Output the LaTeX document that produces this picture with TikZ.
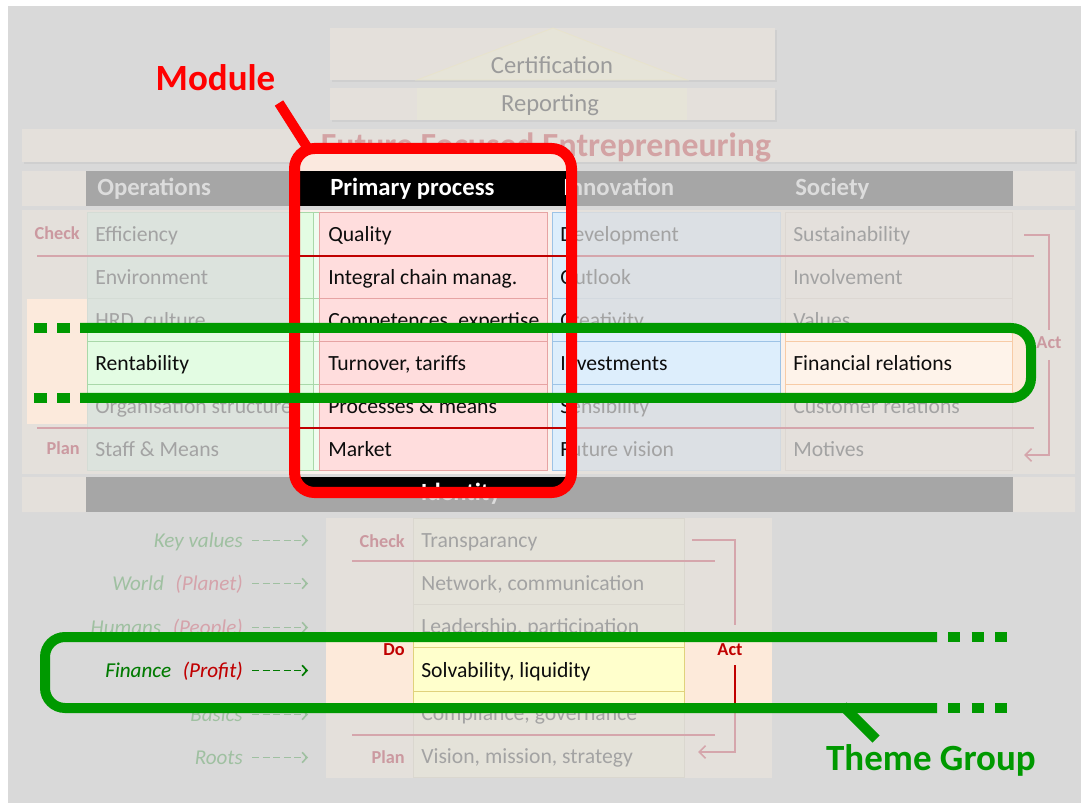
\documentclass[tikz,border=0pt]{standalone}
\usepackage{fontspec}
\setmainfont{Carlito}
\usetikzlibrary{arrows.meta}

% fixed colours
\definecolor{pageGray}{HTML}{D9D9D9}
\definecolor{shadowGray}{HTML}{CFCFCF}
\definecolor{barFill}{HTML}{E4E0DB}
\definecolor{roofFill}{HTML}{E6E4D8}
\definecolor{roofEdge}{HTML}{E8E3CC}
\definecolor{capTxt}{HTML}{9B9B9B}
\definecolor{ffeTxt}{HTML}{D3A3A4}
\definecolor{doPeach}{HTML}{FCEADC}
\definecolor{peachTop}{HTML}{FBE9DF}
\definecolor{hiGreen}{HTML}{009900}
\definecolor{hiRed}{HTML}{FF0000}

% muted palette (f) for the background layer
\definecolor{fTxt}{HTML}{A3A3A3}
\definecolor{fBlock}{HTML}{E4E0DB}
\definecolor{fOps}{HTML}{DCE3DD}
\definecolor{fOpsLine}{HTML}{D4DCD5}
\definecolor{fStrip}{HTML}{DEE6DF}
\definecolor{fPri}{HTML}{E0D6D6}
\definecolor{fPriLine}{HTML}{D5C0C0}
\definecolor{fInn}{HTML}{DCE0E4}
\definecolor{fInnLine}{HTML}{D3D9DF}
\definecolor{fSoc}{HTML}{E4E0DC}
\definecolor{fSocLine}{HTML}{DCD7D2}
\definecolor{fRight}{HTML}{E4E0DB}
\definecolor{fHdr}{HTML}{A6A6A6}
\definecolor{fHdrTxt}{HTML}{DCDCDC}
\definecolor{fPdca}{HTML}{CB99A0}
\definecolor{fPdcaLine}{HTML}{D5A6AC}
\definecolor{fBot}{HTML}{E4E0DB}
\definecolor{fYel}{HTML}{E4E2D9}
\definecolor{fYelLine}{HTML}{DAD7CF}
\definecolor{fGrnTxt}{HTML}{9FC0A1}
\definecolor{fRedTxt}{HTML}{D5A3AB}

% full palette (b) for the highlighted parts
\definecolor{bTxt}{HTML}{0D0D0D}
\definecolor{bBlock}{HTML}{FAF1EC}
\definecolor{bOps}{HTML}{E3FCE3}
\definecolor{bOpsLine}{HTML}{A9D8A9}
\definecolor{bStrip}{HTML}{F0FCF0}
\definecolor{bPri}{HTML}{FFDDDD}
\definecolor{bPriLine}{HTML}{E6A3A3}
\definecolor{bInn}{HTML}{DDEEFC}
\definecolor{bInnLine}{HTML}{9DC3E6}
\definecolor{bSoc}{HTML}{FEF3EA}
\definecolor{bSocLine}{HTML}{F7CBA6}
\definecolor{bRight}{HTML}{FDEAD8}
\definecolor{bHdr}{HTML}{000000}
\definecolor{bHdrTxt}{HTML}{FFFFFF}
\definecolor{bPdca}{HTML}{C00000}
\definecolor{bPdcaLine}{HTML}{C00000}
\definecolor{bBot}{HTML}{FDEADA}
\definecolor{bYel}{HTML}{FFFFCC}
\definecolor{bYelLine}{HTML}{E0D27C}
\definecolor{bGrnTxt}{HTML}{007A00}
\definecolor{bRedTxt}{HTML}{C00000}

\newcommand\usepalette[1]{%
  \colorlet{cTxt}{#1Txt}\colorlet{cBlock}{#1Block}\colorlet{cOps}{#1Ops}%
  \colorlet{cOpsLine}{#1OpsLine}\colorlet{cStrip}{#1Strip}\colorlet{cPri}{#1Pri}%
  \colorlet{cPriLine}{#1PriLine}\colorlet{cInn}{#1Inn}\colorlet{cInnLine}{#1InnLine}%
  \colorlet{cSoc}{#1Soc}\colorlet{cSocLine}{#1SocLine}\colorlet{cRight}{#1Right}%
  \colorlet{cHdr}{#1Hdr}\colorlet{cHdrTxt}{#1HdrTxt}\colorlet{cPdca}{#1Pdca}%
  \colorlet{cPdcaLine}{#1PdcaLine}\colorlet{cBot}{#1Bot}\colorlet{cYel}{#1Yel}%
  \colorlet{cYelLine}{#1YelLine}\colorlet{cGrnTxt}{#1GrnTxt}\colorlet{cRedTxt}{#1RedTxt}}

\tikzset{
  celltxt/.style={anchor=base west, inner sep=0pt, font=\fontsize{15.4}{18}\selectfont, text=cTxt},
  hdrtxt/.style={anchor=base west, inner sep=0pt, font=\bfseries\fontsize{17.6}{20}\selectfont, text=cHdrTxt},
  pdcatxt/.style={inner sep=0pt, font=\bfseries\fontsize{13}{15}\selectfont, text=cPdca},
  keytxt/.style={anchor=base east, inner sep=0pt, font=\itshape\fontsize{15}{18}\selectfont},
  captxt/.style={anchor=base, inner sep=0pt, font=\fontsize{17.5}{20}\selectfont, text=capTxt},
  ffetxt/.style={anchor=base, inner sep=0pt, font=\bfseries\fontsize{24}{28}\selectfont, text=ffeTxt},
  bigtxt/.style={anchor=base, inner sep=0pt, font=\bfseries\fontsize{26.3}{30}\selectfont},
  cellbox/.style={line width=0.25mm},
  pdcaline/.style={draw=cPdcaLine, line width=0.42mm},
  bracketarrow/.style={-{Straight Barb[length=1.6mm,width=3.2mm]}},
  keyarrow/.style={dash pattern=on 1.75mm off 0.9mm, line width=0.4mm,
                   -{Straight Barb[length=1.2mm,width=2.6mm]}},
  band/.style={draw=hiGreen, line width=2.5mm},
}

% the four-column house body with its header and footer bars
\newcommand\topgrid[1]{%
  \fill[cBlock] (22,171) rectangle (86,206) (1013,171) rectangle (1075,206);
  \fill[cHdr] (86,171) rectangle (1013,206);
  \node[hdrtxt] (#1hops) at (97,196) {Operations};
  \node[hdrtxt] (#1hpri) at (330,196) {Primary process};
  \node[hdrtxt] (#1hinn) at (563,196) {Innovation};
  \node[hdrtxt] (#1hsoc) at (795,196) {Society};
  \fill[cBlock] (22,210) rectangle (1075,474);
  \fill[doPeach] (27,299) rectangle (87,424);
  \fill[cRight] (1012,213) rectangle (1031,471);
  \foreach \r in {0,...,5}{%
    \pgfmathsetmacro\ya{213+43*\r}\pgfmathsetmacro\yb{256+43*\r}%
    \filldraw[cellbox, fill=cOps, draw=cOpsLine] (87,\ya) rectangle (313,\yb);
    \filldraw[cellbox, fill=cStrip, draw=cOpsLine] (313,\ya) rectangle (319,\yb);
    \filldraw[cellbox, fill=cPri, draw=cPriLine] (319,\ya) rectangle (547,\yb);
    \filldraw[cellbox, fill=cInn, draw=cInnLine] (552,\ya) rectangle (780,\yb);
    \filldraw[cellbox, fill=cSoc, draw=cSocLine] (785,\ya) rectangle (1012,\yb);
  }
  \draw[pdcaline] (37,256) -- (1034,256) (37,428) -- (1034,428);
  \foreach \t [count=\i] in {Efficiency, Environment, {HRD, culture}, Rentability,
      Organisation structure, Staff \& Means}
    \node[celltxt] (#1ops\i) at (95,{198.5+43*\i}) {\t};
  \foreach \t [count=\i] in {Quality, Integral chain manag., {Competences, expertise},
      {Turnover, tariffs}, Processes \& means, Market}
    \node[celltxt] (#1pri\i) at (328,{198.5+43*\i}) {\t};
  \foreach \t [count=\i] in {Development, Outlook, Creativity, Investments,
      Sensibility, Future vision}
    \node[celltxt] (#1inn\i) at (560,{198.5+43*\i}) {\t};
  \foreach \t [count=\i] in {Sustainability, Involvement, Values, Financial relations,
      Customer relations, Motives}
    \node[celltxt] (#1soc\i) at (793,{198.5+43*\i}) {\t};
  \node[pdcatxt, anchor=base east] (#1chk) at (80,240) {Check};
  \node[pdcatxt, anchor=base east] (#1pln) at (80,455) {Plan};
  \node[pdcatxt, anchor=base] (#1act) at (1049,349) {Act};
  \coordinate (#1actin) at (1024,235);
  \coordinate (#1actout) at (1024,455);
  \draw[pdcaline] (#1actin) -- (1049,235) -- (1049,330);
  \draw[pdcaline, bracketarrow] (1049,360) -- (1049,455) -- (#1actout);
  \fill[cBlock] (22,477) rectangle (86,512) (1013,477) rectangle (1075,512);
  \fill[cHdr] (86,477) rectangle (1013,512);
  \node[hdrtxt, anchor=base] (#1hid) at (461,500) {Identity};
}

% the foundation block with its PDCA cycle and the theme labels
\newcommand\botgrid[1]{%
  \fill[cBot] (326,518) rectangle (772,778);
  \foreach \r in {0,...,5}{%
    \pgfmathsetmacro\ya{518+43.33*\r}\pgfmathsetmacro\yb{561.33+43.33*\r}%
    \filldraw[cellbox, fill=cYel, draw=cYelLine] (413,\ya) rectangle (684,\yb);
  }
  \draw[pdcaline] (352,561) -- (715,561) (352,735) -- (715,735);
  \foreach \t [count=\i] in {Transparancy, {Network, communication},
      {Leadership, participation}, {Solvability, liquidity},
      {Compliance, governance}, {Vision, mission, strategy}}
    \node[celltxt] (#1fnd\i) at (421,{503.8+43.33*\i}) {\t};
  \node[pdcatxt, anchor=base east] (#1bchk) at (405,547) {Check};
  \node[pdcatxt, anchor=base east] (#1bpln) at (405,763) {Plan};
  \node[pdcatxt, anchor=base east] (#1bdo) at (405,655) {Do};
  \node[pdcatxt, anchor=base] (#1bact) at (730,655) {Act};
  \coordinate (#1bactin) at (692,540);
  \coordinate (#1bactout) at (698,752);
  \draw[pdcaline] (#1bactin) -- (735,540) -- (735,625);
  \draw[pdcaline, bracketarrow] (735,665) -- (735,752) -- (#1bactout);
  \node[keytxt] (#1k1) at (243,547) {\color{cGrnTxt}Key values};
  \node[keytxt] (#1k2) at (243,590) {\color{cGrnTxt}World\hspace{0.55em}\color{cRedTxt}(Planet)};
  \node[keytxt] (#1k3) at (243,634) {\color{cGrnTxt}Humans\hspace{0.55em}\color{cRedTxt}(People)};
  \node[keytxt] (#1k4) at (243,677) {\color{cGrnTxt}Finance\hspace{0.55em}\color{cRedTxt}(Profit)};
  \node[keytxt] (#1k5) at (243,721) {\color{cGrnTxt}Basics};
  \node[keytxt] (#1k6) at (243,764) {\color{cGrnTxt}Roots};
  \foreach \i in {1,...,6}
    \draw[keyarrow, draw=cGrnTxt] (#1k\i.base east) ++(9,-6.5) -- ++(56,0);
}

\begin{document}
\begin{tikzpicture}[x=0.25mm, y=-0.25mm]
\useasboundingbox (0,0) rectangle (1081,803);
\fill[white] (0,0) rectangle (1081,803);
\fill[pageGray] (8,6) rectangle (1081,803);

% roof: certification and reporting
\fill[shadowGray] (332,30) rectangle (777,82);
\fill[barFill] (330,28) rectangle (775,80);
\filldraw[fill=roofFill, draw=roofEdge, line width=0.2mm] (417,80) -- (553,28) -- (687,80) -- cycle;
\node[captxt] (cert) at (552,74) {Certification};
\fill[shadowGray] (332,90) rectangle (777,122);
\fill[barFill] (330,88) rectangle (775,120);
\fill[roofFill] (417,88) rectangle (687,120);
\node[captxt] (rep) at (550,112) {Reporting};

% title beam
\fill[shadowGray] (24,131) rectangle (1077,164);
\fill[barFill] (22,129) rectangle (1075,162);
\node[ffetxt] (ffe) at (546,157) {Future Focused Entrepreneuring};

% muted layer
\usepalette{f}
\topgrid{f}
\botgrid{f}

% full-colour layer inside the module frame and the two theme bands
\begin{scope}
  \clip (300,154) rectangle (566,487) (30,333) rectangle (1031,393) (45,642) rectangle (1010,703);
  \usepalette{b}
  \fill[peachTop] (300,154) rectangle (566,171);
  \topgrid{b}
  \botgrid{b}
\end{scope}

% module frame and its callout
\draw[draw=hiRed, line width=2.75mm, rounded corners=5mm] (294.5,148.5) rectangle (571.5,492.5);
\node[bigtxt, text=hiRed] (module) at (215.5,91) {Module};
\coordinate (modhead) at (279,103);
\coordinate (modfoot) at (307,147);
\draw[hiRed, line width=2.5mm] (modhead) -- (modfoot);

% theme bands
\draw[band, rounded corners=5mm] (80,328) -- (1031,328) -- (1031,398) -- (80,398);
\draw[band, dash pattern=on 3.25mm off 2.5mm] (34,328) -- (80,328) (34,398) -- (80,398);
\draw[band, rounded corners=5mm] (937,637) -- (45,637) -- (45,708) -- (937,708);
\draw[band, dash pattern=on 3mm off 2.9mm] (948,637) -- (1008,637) (948,708) -- (1008,708);
\node[bigtxt, text=hiGreen] (theme) at (931,770) {Theme Group};
\coordinate (themehead) at (843,706);
\coordinate (themefoot) at (876,739);
\draw[hiGreen, line width=2.5mm] (themehead) -- (themefoot);
\end{tikzpicture}
\end{document}
